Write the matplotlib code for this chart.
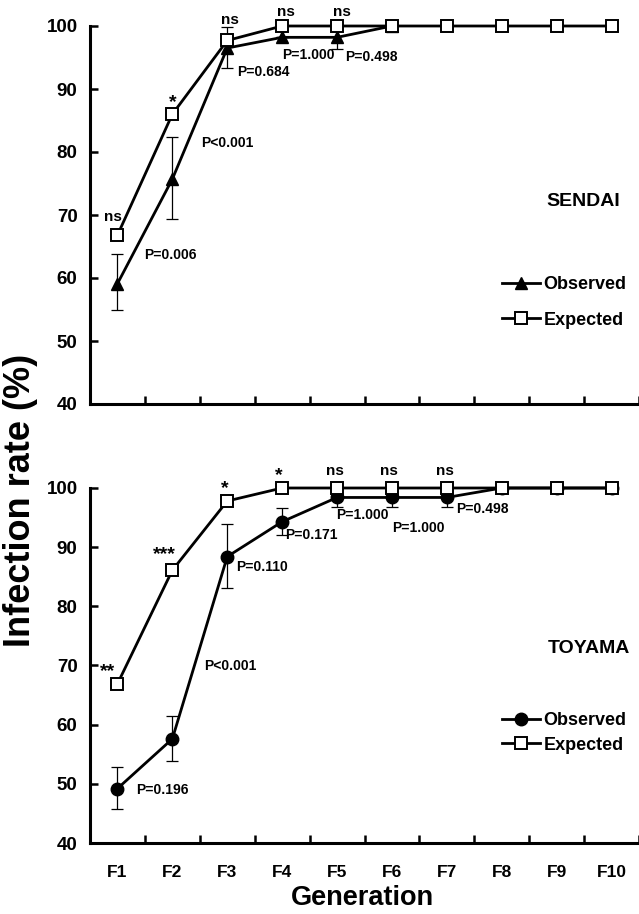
import matplotlib
matplotlib.use('Agg')
import matplotlib.pyplot as plt
import numpy as np

# ---------------- data ----------------
generations = ['F1', 'F2', 'F3', 'F4', 'F5', 'F6', 'F7', 'F8', 'F9', 'F10']

sendai_obs = [59.1, 75.7, 96.5, 98.2, 98.2, 100.0]
sendai_obs_low = [54.9, 69.4, 93.3, 98.2, 96.3, 100.0]
sendai_obs_high = [63.8, 82.4, 99.8, 98.2, 100.0, 100.0]
sendai_exp = [66.8, 86.0, 97.7, 100.0, 100.0, 100.0, 100.0, 100.0, 100.0, 100.0]

toyama_obs = [49.2, 57.6, 88.4, 94.3, 98.4, 98.4, 98.4, 100.0, 100.0, 100.0]
toyama_obs_low = [45.7, 53.9, 83.1, 92.1, 96.8, 96.8, 96.8, 100.0, 100.0, 100.0]
toyama_obs_high = [52.9, 61.5, 93.9, 96.6, 100.0, 100.0, 100.0, 100.0, 100.0, 100.0]
toyama_exp = [66.9, 86.1, 97.8, 100.0, 100.0, 100.0, 100.0, 100.0, 100.0, 100.0]

sendai_sig = ['ns', '*', 'ns', 'ns', 'ns']
sendai_p = ['P=0.006', 'P<0.001', 'P=0.684', 'P=1.000', 'P=0.498']
toyama_sig = ['**', '***', '*', '*', 'ns', 'ns', 'ns']
toyama_p = ['P=0.196', 'P<0.001', 'P=0.110', 'P=0.171', 'P=1.000', 'P=1.000', 'P=0.498']

yticks = [40, 50, 60, 70, 80, 90, 100]

# ---------------- layout ----------------
sendai_sig_pos = [(-0.08, 69.7), (1.0, 88.3), (2.05, 101.0), (3.06, 102.2), (4.09, 102.2)]
sendai_p_pos = [(0.97, 63.7), (2.0, 81.5), (2.65, 92.75), (3.48, 95.4), (4.63, 95.1)]
toyama_sig_pos = [(-0.18, 69.3), (0.86, 89.2), (1.95, 100.3), (2.94, 102.5),
                  (3.97, 102.8), (4.94, 102.8), (5.97, 102.8)]
toyama_p_pos = [(0.81, 49.0), (2.06, 69.9), (2.64, 86.7), (3.54, 92.06),
                (4.47, 95.4), (5.48, 93.2), (6.64, 96.4)]

FONT = 'Liberation Sans'
plt.rcParams['font.family'] = [FONT, 'DejaVu Sans']
plt.rcParams['font.weight'] = 'bold'

W, H = 639, 914
fig = plt.figure(figsize=(W / 100, H / 100), dpi=100)

ax1 = fig.add_axes([90 / W, 1 - 404 / H, 549 / W, 378 / H])
ax2 = fig.add_axes([90 / W, 1 - 843 / H, 549 / W, 355 / H])

LW = 2.0


def style_axes(ax, show_labels):
    ax.set_xlim(-0.5, 9.5)
    ax.set_ylim(40, 100)
    for s in ['top', 'right']:
        ax.spines[s].set_visible(False)
    for s in ['left', 'bottom']:
        ax.spines[s].set_linewidth(2.2)
    ax.set_yticks(yticks)
    ax.set_yticklabels([str(v) for v in yticks], fontsize=13.5, fontweight='bold')
    ax.tick_params(axis='y', direction='in', length=6, width=1.8, pad=9)
    ax.set_xticks(np.arange(len(generations)))
    if show_labels:
        ax.set_xticklabels(generations, fontsize=12.5, fontweight='bold')
    else:
        ax.set_xticklabels([])
    ax.tick_params(axis='x', which='major', length=0, pad=16)
    ax.set_xticks(np.arange(len(generations)) + 0.5, minor=True)
    ax.tick_params(axis='x', which='minor', direction='in', length=6, width=1.8)


def plot_panel(ax, obs, low, high, exp, marker, msize):
    x_obs = np.arange(len(obs))
    x_exp = np.arange(len(exp))
    obs = np.array(obs)
    yerr = [obs - np.array(low), np.array(high) - obs]
    ax.errorbar(x_obs, obs, yerr=yerr, fmt='none', ecolor='black', elinewidth=0.9,
                capsize=4.5, capthick=0.9, zorder=2)
    ax.plot(x_obs, obs, color='black', lw=LW, marker=marker, ms=msize,
            mfc='black', mec='black', zorder=3, clip_on=False, label='Observed')
    ax.plot(x_exp, exp, color='black', lw=LW, marker='s', ms=8,
            mfc='white', mec='black', mew=1.4, zorder=4, clip_on=False, label='Expected')


def sig_text(ax, lab, x, y):
    if '*' in lab:
        ax.text(x, y - 0.4, lab, ha='center', va='center', fontsize=14, fontweight='bold')
    else:
        ax.text(x, y, lab, ha='center', va='center', fontsize=11, fontweight='bold')


style_axes(ax1, False)
style_axes(ax2, True)

plot_panel(ax1, sendai_obs, sendai_obs_low, sendai_obs_high, sendai_exp, '^', 9)
plot_panel(ax2, toyama_obs, toyama_obs_low, toyama_obs_high, toyama_exp, 'o', 9)

for lab, (x, y) in zip(sendai_sig, sendai_sig_pos):
    sig_text(ax1, lab, x, y)
for lab, (x, y) in zip(sendai_p, sendai_p_pos):
    ax1.text(x, y, lab, ha='center', va='center', fontsize=10, fontweight='bold')
for lab, (x, y) in zip(toyama_sig, toyama_sig_pos):
    sig_text(ax2, lab, x, y)
for lab, (x, y) in zip(toyama_p, toyama_p_pos):
    ax2.text(x, y, lab, ha='center', va='center', fontsize=10, fontweight='bold')

ax1.text(8.48, 72.1, 'SENDAI', ha='center', va='center', fontsize=14, fontweight='bold')
ax2.text(8.58, 72.9, 'TOYAMA', ha='center', va='center', fontsize=14, fontweight='bold')

ax1.legend(loc='center left', bbox_to_anchor=(0.75, 0.269), frameon=False,
           handlelength=2.1, handletextpad=0.2, labelspacing=1.05,
           borderpad=0, borderaxespad=0, prop={'weight': 'bold', 'size': 13})
ax2.legend(loc='center left', bbox_to_anchor=(0.75, 0.31), frameon=False,
           handlelength=2.1, handletextpad=0.2, labelspacing=0.4,
           borderpad=0, borderaxespad=0, prop={'weight': 'bold', 'size': 13})

fig.text(362.5 / W, 1 - 905 / H, 'Generation', ha='center', va='baseline',
         fontsize=19.5, fontweight='bold')
fig.text(21 / W, 1 - 500 / H, 'Infection rate (%)', ha='center', va='center',
         rotation=90, fontsize=26, fontweight='bold')

fig.savefig('out.png', dpi=100)
